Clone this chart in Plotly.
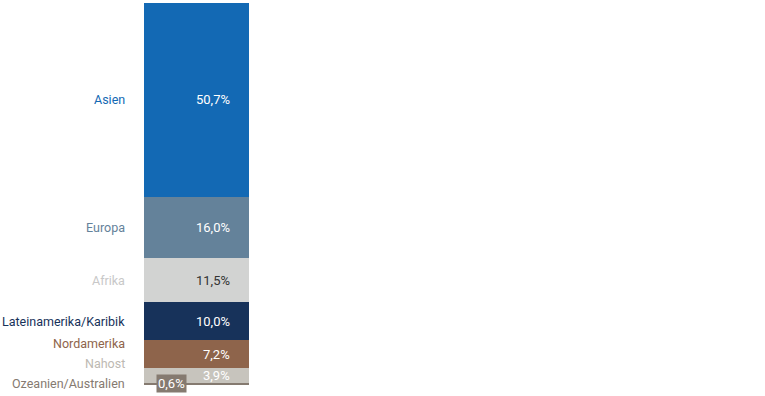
import plotly.graph_objects as go

categories = ["Asien", "Europa", "Afrika", "Lateinamerika/Karibik", "Nordamerika", "Nahost", "Ozeanien/Australien"]
values = [50.7, 16.0, 11.5, 10.0, 7.2, 3.9, 0.6]
value_labels = ["50,7%", "16,0%", "11,5%", "10,0%", "7,2%", "3,9%", "0,6%"]
colors = ["#1369b4", "#64829a", "#d2d3d2", "#17325a", "#8e644b", "#c7c4bd", "#857a70"]
label_colors = ["#1369b4", "#64829a", "#c8c8c8", "#17325a", "#8e644b", "#bdb9b2", "#857a70"]
value_colors = ["#ffffff", "#ffffff", "#333333", "#ffffff", "#ffffff", "#ffffff", "#ffffff"]

FONT = "Roboto, Liberation Sans, sans-serif"
total = sum(values)

fig = go.Figure()
order = list(range(len(categories)))[::-1]
for i in order:
    fig.add_trace(go.Bar(
        x=[0], y=[values[i]], name=categories[i],
        marker=dict(color=colors[i], line=dict(width=0)),
        width=1, hoverinfo="name+y", showlegend=False,
    ))

gap = 5.2
base = 0.0
prev = None
for i in order:
    center = base + values[i] / 2
    if prev is None:
        ly = max(center, 0.5)
    else:
        ly = max(center, prev + gap)
    prev = ly
    fig.add_annotation(x=0, xref="paper", y=ly, yref="y", text=categories[i],
                       xanchor="right", yanchor="middle", xshift=-17, showarrow=False,
                       font=dict(family=FONT, size=12.5, color=label_colors[i]))
    if values[i] < 1:
        fig.add_annotation(x=-0.5, y=center, text=value_labels[i], xanchor="left", yanchor="middle",
                           xshift=12, showarrow=False, bgcolor=colors[i], borderpad=1,
                           font=dict(family=FONT, size=13, color=value_colors[i]))
    else:
        fig.add_annotation(x=0.5, y=center, text=value_labels[i], xanchor="right", yanchor="middle",
                           xshift=-17, showarrow=False,
                           font=dict(family=FONT, size=13, color=value_colors[i]))
    base += values[i]

fig.update_layout(
    barmode="stack", width=765, height=396,
    margin=dict(l=144, r=516, t=3, b=11),
    paper_bgcolor="white", plot_bgcolor="white",
    xaxis=dict(range=[-0.5, 0.5], visible=False, fixedrange=True),
    yaxis=dict(range=[0, total], visible=False, fixedrange=True),
    bargap=0,
)
fig.write_html("out.html", config={"displayModeBar": False},
               post_script="document.body.style.margin='0';document.body.style.overflow='hidden';")
